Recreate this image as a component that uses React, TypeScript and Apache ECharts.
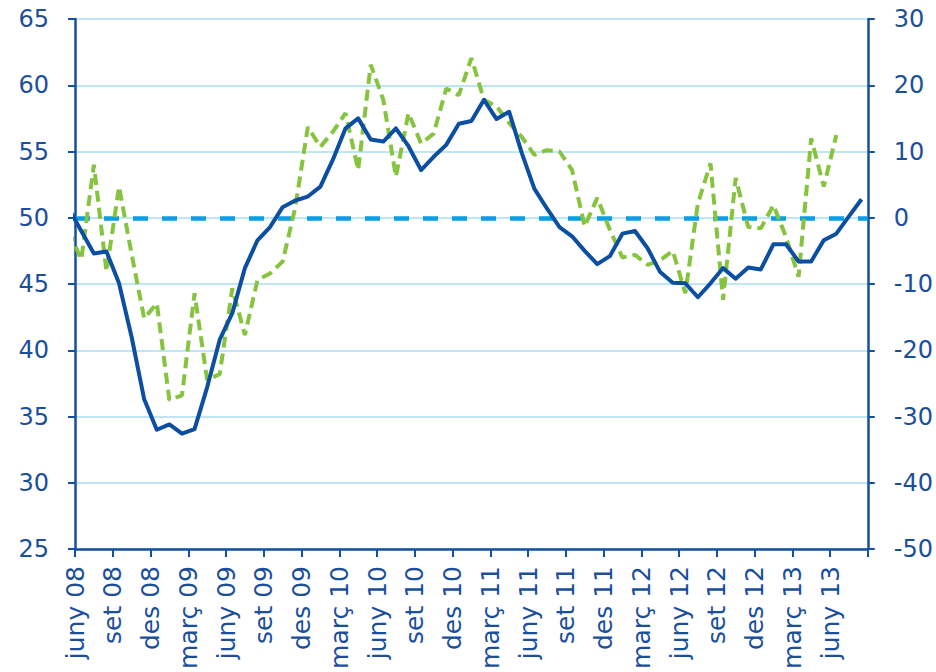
import React, { useEffect, useRef } from "react";
import * as echarts from "echarts";

// Tick labels every 3 months, starting juny 08 (last tick, set 13, is unlabeled)
const tickLabels = [
  "juny 08", "set 08", "des 08", "març 09", "juny 09", "set 09", "des 09",
  "març 10", "juny 10", "set 10", "des 10", "març 11", "juny 11", "set 11",
  "des 11", "març 12", "juny 12", "set 12", "des 12", "març 13", "juny 13", "",
];

// Monthly series, first value = maig 08 (falls just before the axis start)
const firstMonthIndex = -1;

// Left axis (solid dark blue line)
const blueSeries = [
  50.7, 49.0, 47.3, 47.45, 45.05, 41.0, 36.3, 34.0, 34.4, 33.7, 34.05,
  37.2, 40.8, 42.8, 46.2, 48.3, 49.3, 50.8, 51.3, 51.6, 52.35, 54.4,
  56.75, 57.5, 55.9, 55.75, 56.75, 55.4, 53.6, 54.6, 55.5, 57.1, 57.3,
  58.9, 57.45, 58.0, 54.9, 52.2, 50.7, 49.3, 48.6, 47.5, 46.5, 47.1,
  48.8, 49.0, 47.7, 45.9, 45.1, 45.05, 44.0, 45.05, 46.2, 45.4, 46.25,
  46.1, 48.0, 48.0, 46.7, 46.7, 48.3, 48.8, 50.1, 51.4,
];

// Right axis (dashed green line)
const greenSeries = [
  -2.0, -6.3, 8.0, -8.1, 4.7, -5.5, -15.2, -12.9, -27.5, -26.8, -11.4,
  -24.5, -23.6, -10.65, -17.7, -9.4, -8.4, -6.6, 1.5, 13.7, 10.7, 13.0,
  15.8, 7.2, 23.1, 17.8, 6.2, 15.8, 11.2, 12.7, 19.5, 18.5, 24.1,
  17.8, 16.8, 14.3, 12.2, 9.5, 10.2, 10.0, 7.2, -1.3, 3.0, -1.8,
  -6.0, -5.6, -7.1, -6.4, -5.0, -11.4, 2.2, 8.2, -12.4, 6.0, -1.4,
  -1.6, 1.9, -2.9, -8.9, 12.0, 4.7, 12.5,
];

const referenceLevel = 50;

const leftAxis = { min: 25, max: 65, interval: 5 };
const rightAxis = { min: -50, max: 30, interval: 10 };
const xAxisRange = { min: 0, max: 63, interval: 3 };

const TEXT = "#1b4f9c";
const AXIS = "#15509f";
const FONT = "DejaVu Sans";

export default function App() {
  const ref = useRef<HTMLDivElement>(null);

  useEffect(() => {
    if (!ref.current) return;
    const chart = echarts.init(ref.current, undefined, { renderer: "svg" });
    const midMonth = 0.5;
    const blueData = blueSeries.map((v, i) => [firstMonthIndex + i + midMonth, v]);
    const greenData = greenSeries.map((v, i) => [firstMonthIndex + i + midMonth, v]);

    chart.setOption({
      animation: false,
      backgroundColor: "#ffffff",
      textStyle: { fontFamily: FONT },
      grid: { left: 75, right: 67, top: 19, bottom: 123, containLabel: false },
      xAxis: {
        type: "value",
        min: xAxisRange.min,
        max: xAxisRange.max,
        interval: xAxisRange.interval,
        axisLine: { show: true, onZero: false, lineStyle: { color: AXIS, width: 2.5 } },
        axisTick: { show: true, length: 8, lineStyle: { color: AXIS, width: 2 } },
        splitLine: { show: false },
        axisLabel: {
          rotate: 90,
          margin: 17,
          color: TEXT,
          fontSize: 25,
          fontFamily: FONT,
          padding: [12, 0, 0, 0],
          showMinLabel: true,
          showMaxLabel: true,
          formatter: (v: number) => tickLabels[Math.round(v / xAxisRange.interval)] ?? "",
        },
      },
      yAxis: [
        {
          type: "value",
          position: "left",
          min: leftAxis.min,
          max: leftAxis.max,
          interval: leftAxis.interval,
          axisLine: { show: true, lineStyle: { color: AXIS, width: 2.5 } },
          axisTick: { show: true, length: 7, lineStyle: { color: AXIS, width: 2 } },
          splitLine: { show: true, lineStyle: { color: "#bfe6f8", width: 2 } },
          axisLabel: { color: TEXT, fontSize: 24, fontFamily: FONT, margin: 26 },
        },
        {
          type: "value",
          position: "right",
          min: rightAxis.min,
          max: rightAxis.max,
          interval: rightAxis.interval,
          axisLine: { show: true, lineStyle: { color: AXIS, width: 2.5 } },
          axisTick: { show: true, length: 7, lineStyle: { color: AXIS, width: 2 } },
          splitLine: { show: false },
          axisLabel: { color: TEXT, fontSize: 24, fontFamily: FONT, margin: 26 },
        },
      ],
      series: [
        {
          type: "line",
          name: "blue",
          yAxisIndex: 0,
          data: blueData,
          symbol: "none",
          clip: true,
          z: 3,
          lineStyle: { color: "#0c4ea2", width: 4, join: "round" },
          markLine: {
            silent: true,
            symbol: ["none", "none"],
            label: { show: false },
            z: 1,
            lineStyle: { color: "#0a9fe4", width: 4.5, type: [15, 14] },
            data: [{ yAxis: referenceLevel }],
          },
        },
        {
          type: "line",
          name: "green",
          yAxisIndex: 1,
          data: greenData,
          symbol: "none",
          clip: true,
          z: 2,
          lineStyle: { color: "#86c43f", width: 4, type: [11, 6] },
        },
      ],
    });
    return () => chart.dispose();
  }, []);

  return (
    <div
      ref={ref}
      style={{ position: "fixed", left: 0, top: 0, width: 936, height: 672 }}
    />
  );
}
